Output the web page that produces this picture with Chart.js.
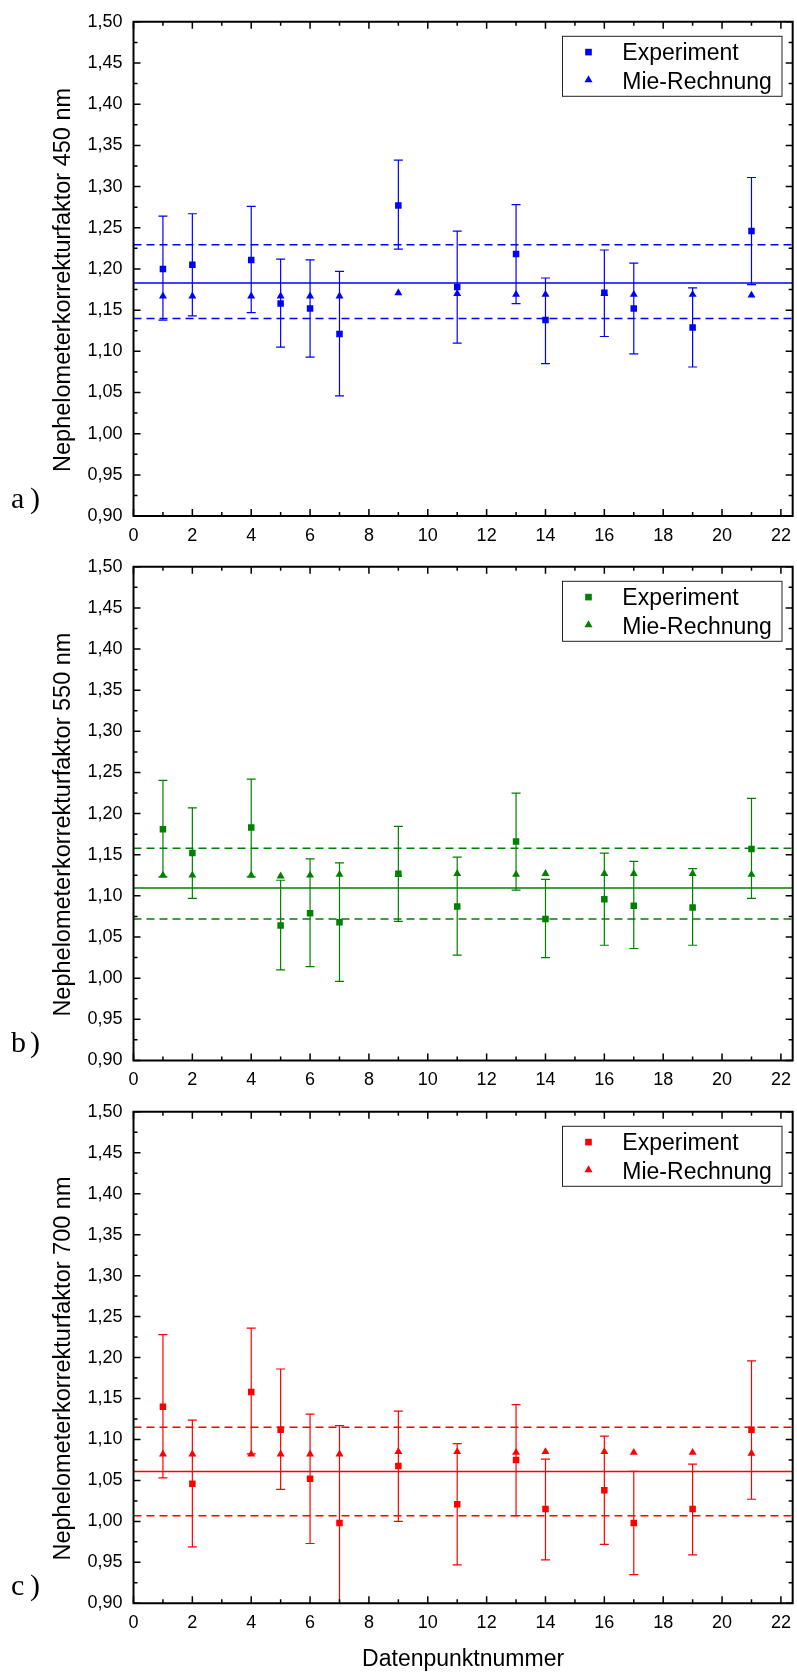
<!DOCTYPE html>
<html>
<head>
<meta charset="utf-8">
<script src="https://cdn.jsdelivr.net/npm/chart.js@4.4.1/dist/chart.umd.min.js"></script>
<style>
  html, body { margin: 0; padding: 0; background: #fff; overflow: hidden; }
  #wrap { position: relative; width: 797px; height: 1673px; overflow: hidden; background: #fff; }
  .panel { position: absolute; left: 0; width: 800px; }
  canvas { display: block; }
</style>
</head>
<body>
<div id="wrap">
  <div class="panel" style="top:0px;height:560px"><canvas id="chartA" width="800" height="560"></canvas></div>
  <div class="panel" style="top:545px;height:560px"><canvas id="chartB" width="800" height="560"></canvas></div>
  <div class="panel" style="top:1090px;height:583px"><canvas id="chartC" width="800" height="583"></canvas></div>
</div>
<script>
// Data point numbers (shared by all three wavelengths)
const pointNumbers = [1, 2, 4, 5, 6, 7, 9, 11, 13, 14, 16, 17, 19, 21];

// Axis ticks
const xMajorTicks = [0, 2, 4, 6, 8, 10, 12, 14, 16, 18, 20, 22];
const xMinorTicks = [1, 3, 5, 7, 9, 11, 13, 15, 17, 19, 21];
const yMajorTicks = [0.90, 0.95, 1.00, 1.05, 1.10, 1.15, 1.20, 1.25, 1.30, 1.35, 1.40, 1.45, 1.50];
const yMinorTicks = [0.925, 0.975, 1.025, 1.075, 1.125, 1.175, 1.225, 1.275, 1.325, 1.375, 1.425, 1.475];

// 450 nm
const exp450     = [1.200, 1.205, 1.211, 1.158, 1.152, 1.121, 1.277, 1.178, 1.218, 1.138, 1.171, 1.152, 1.129, 1.246];
const exp450High = [1.264, 1.267, 1.276, 1.212, 1.211, 1.197, 1.332, 1.246, 1.278, 1.189, 1.223, 1.207, 1.177, 1.311];
const exp450Low  = [1.138, 1.143, 1.147, 1.105, 1.093, 1.046, 1.224, 1.110, 1.158, 1.085, 1.118, 1.097, 1.081, 1.181];
const mie450     = [1.167, 1.167, 1.167, 1.167, 1.167, 1.167, 1.171, 1.170, 1.169, 1.169, 1.170, 1.169, 1.169, 1.168];
const mean450 = 1.183;
const band450 = [1.140, 1.2295];

// 550 nm
const exp550     = [1.181, 1.152, 1.183, 1.064, 1.079, 1.068, 1.127, 1.087, 1.166, 1.072, 1.096, 1.088, 1.086, 1.157];
const exp550High = [1.2405, 1.207, 1.242, 1.119, 1.145, 1.140, 1.1845, 1.147, 1.225, 1.120, 1.152, 1.142, 1.133, 1.2185];
const exp550Low  = [1.123, 1.097, 1.123, 1.010, 1.014, 0.996, 1.069, 1.028, 1.107, 1.025, 1.040, 1.036, 1.040, 1.097];
const mie550     = [1.125, 1.125, 1.125, 1.124, 1.125, 1.126, 1.126, 1.127, 1.126, 1.127, 1.127, 1.127, 1.127, 1.126];
const mean550 = 1.1095;
const band550 = [1.072, 1.158];

// 700 nm
const exp700     = [1.140, 1.046, 1.158, 1.112, 1.052, 0.998, 1.0675, 1.021, 1.075, 1.015, 1.038, 0.998, 1.015, 1.112];
const exp700High = [1.228, 1.1235, 1.236, 1.186, 1.131, 1.117, 1.1345, 1.095, 1.1425, 1.076, 1.104, 1.061, 1.070, 1.196];
const exp700Low  = [1.053, 0.969, 1.0825, 1.039, 0.973, 0.879, 1.000, 0.947, 1.007, 0.953, 0.972, 0.935, 0.959, 1.027];
const mie700     = [1.082, 1.082, 1.082, 1.082, 1.082, 1.082, 1.085, 1.085, 1.084, 1.085, 1.085, 1.084, 1.084, 1.083];
const mean700 = 1.061;
const band700 = [1.007, 1.115];

const SANS = "'Liberation Sans', Arial, Helvetica, sans-serif";
const SERIF = "'Liberation Serif', 'Times New Roman', serif";

// Mean line, dashed band and error bars, drawn under the markers
const underlay = {
  id: 'underlay',
  beforeDatasetsDraw(chart, args, opts) {
    const { ctx, chartArea: a, scales: { x, y } } = chart;
    ctx.save();
    ctx.beginPath();
    ctx.rect(a.left, a.top, a.right - a.left, a.bottom - a.top);
    ctx.clip();

    ctx.strokeStyle = opts.color;
    ctx.lineWidth = 1.5;
    const pm = y.getPixelForValue(opts.mean);
    ctx.beginPath(); ctx.moveTo(a.left, pm); ctx.lineTo(a.right, pm); ctx.stroke();
    ctx.setLineDash([8, 5]);
    for (const v of opts.band) {
      const p = y.getPixelForValue(v);
      ctx.beginPath(); ctx.moveTo(a.left, p); ctx.lineTo(a.right, p); ctx.stroke();
    }
    ctx.setLineDash([]);

    chart.data.datasets.forEach(ds => {
      if (!ds.errLow) return;
      ctx.strokeStyle = ds.backgroundColor;
      ctx.lineWidth = 1.2;
      ds.data.forEach((pt, j) => {
        const px = x.getPixelForValue(pt.x);
        const lo = y.getPixelForValue(ds.errLow[j]);
        const hi = y.getPixelForValue(ds.errHigh[j]);
        ctx.beginPath();
        ctx.moveTo(px, lo); ctx.lineTo(px, hi);
        ctx.moveTo(px - 4.5, lo); ctx.lineTo(px + 4.5, lo);
        ctx.moveTo(px - 4.5, hi); ctx.lineTo(px + 4.5, hi);
        ctx.stroke();
      });
    });
    ctx.restore();
  }
};

// Box frame with inward ticks, legend, axis titles and panel letter
const overlay = {
  id: 'overlay',
  afterDraw(chart, args, opts) {
    const { ctx, chartArea: a, scales: { x, y } } = chart;
    ctx.save();
    ctx.strokeStyle = '#000';
    ctx.lineWidth = 2;
    ctx.beginPath();
    ctx.moveTo(a.left, a.top); ctx.lineTo(a.right, a.top);
    ctx.lineTo(a.right, a.bottom); ctx.lineTo(a.left, a.bottom); ctx.closePath();
    ctx.stroke();

    ctx.lineWidth = 1.5;
    const tickX = (vals, len) => vals.forEach(v => {
      const p = x.getPixelForValue(v);
      ctx.beginPath();
      ctx.moveTo(p, a.bottom); ctx.lineTo(p, a.bottom - len);
      ctx.moveTo(p, a.top); ctx.lineTo(p, a.top + len);
      ctx.stroke();
    });
    const tickY = (vals, len) => vals.forEach(v => {
      const p = y.getPixelForValue(v);
      ctx.beginPath();
      ctx.moveTo(a.left, p); ctx.lineTo(a.left + len, p);
      ctx.moveTo(a.right, p); ctx.lineTo(a.right - len, p);
      ctx.stroke();
    });
    tickX(xMajorTicks, 7); tickX(xMinorTicks, 4);
    tickY(yMajorTicks, 7); tickY(yMinorTicks, 4);

    // legend
    const lx = 562.5, ly = a.top + 14.5, lw = 219.5, lh = 60;
    ctx.fillStyle = '#fff';
    ctx.fillRect(lx, ly, lw, lh);
    ctx.strokeStyle = '#222';
    ctx.lineWidth = 1;
    ctx.strokeRect(lx, ly, lw, lh);
    const dsExp = chart.data.datasets[0], dsMie = chart.data.datasets[1];
    ctx.fillStyle = dsExp.backgroundColor;
    ctx.fillRect(588.5 - 3.3, a.top + 30.3 - 3.3, 6.6, 6.6);
    ctx.fillStyle = dsMie.backgroundColor;
    ctx.beginPath();
    ctx.moveTo(588.5, a.top + 53.5);
    ctx.lineTo(588.5 + 4, a.top + 60.4);
    ctx.lineTo(588.5 - 4, a.top + 60.4);
    ctx.closePath(); ctx.fill();
    ctx.fillStyle = '#000';
    ctx.font = '23px ' + SANS;
    ctx.textAlign = 'left';
    ctx.textBaseline = 'alphabetic';
    ctx.fillText(dsExp.label, 622.3, a.top + 38.5);
    ctx.fillText(dsMie.label, 622.3, a.top + 67);

    // y axis title
    ctx.save();
    ctx.translate(70, (a.top + a.bottom) / 2 + 11);
    ctx.rotate(-Math.PI / 2);
    ctx.textAlign = 'center';
    ctx.font = '23.5px ' + SANS;
    ctx.fillText(opts.yTitle, 0, 0);
    ctx.restore();

    // x axis title
    if (opts.xTitle) {
      ctx.textAlign = 'center';
      ctx.font = '23px ' + SANS;
      ctx.fillText(opts.xTitle, (a.left + a.right) / 2, a.bottom + 63);
    }

    // panel letter
    ctx.textAlign = 'left';
    ctx.font = '30px ' + SERIF;
    ctx.fillText(opts.letter[0], 11, a.bottom - 8);
    ctx.fillText(opts.letter[1], 30, a.bottom - 8);
    ctx.restore();
  }
};

function makePanel(id, color, exp, expLow, expHigh, mie, mean, band, yTitle, letter, xTitle, pad) {
  new Chart(document.getElementById(id), {
    type: 'scatter',
    data: {
      datasets: [
        {
          label: 'Experiment',
          data: pointNumbers.map((n, i) => ({ x: n, y: exp[i] })),
          errLow: expLow,
          errHigh: expHigh,
          pointStyle: 'rect',
          pointRadius: 4.6,
          backgroundColor: color,
          borderColor: color,
          borderWidth: 0
        },
        {
          label: 'Mie-Rechnung',
          data: pointNumbers.map((n, i) => ({ x: n, y: mie[i] })),
          pointStyle: 'triangle',
          pointRadius: 4.6,
          backgroundColor: color,
          borderColor: color,
          borderWidth: 0
        }
      ]
    },
    options: {
      responsive: false,
      animation: false,
      events: [],
      layout: { padding: pad },
      plugins: {
        legend: { display: false },
        tooltip: { enabled: false },
        underlay: { color: color, mean: mean, band: band },
        overlay: { yTitle: yTitle, letter: letter, xTitle: xTitle }
      },
      scales: {
        x: {
          type: 'linear',
          min: 0,
          max: 22.4,
          grid: { display: false, drawTicks: false },
          border: { display: false },
          afterBuildTicks: s => { s.ticks = xMajorTicks.map(v => ({ value: v })); },
          afterFit: s => { s.height = 40; },
          ticks: {
            autoSkip: false,
            maxRotation: 0,
            padding: 9,
            color: '#000',
            font: { family: SANS, size: 18 },
            callback: v => String(v)
          }
        },
        y: {
          type: 'linear',
          min: 0.9,
          max: 1.5,
          grid: { display: false, drawTicks: false },
          border: { display: false },
          afterBuildTicks: s => { s.ticks = yMajorTicks.map(v => ({ value: v })); },
          afterFit: s => { s.width = 133.5; },
          ticks: {
            autoSkip: false,
            padding: 11,
            color: '#000',
            font: { family: SANS, size: 18 },
            callback: v => Number(v).toFixed(2).replace('.', ',')
          }
        }
      }
    },
    plugins: [underlay, overlay]
  });
}

makePanel('chartA', '#0000ff', exp450, exp450Low, exp450High, mie450, mean450, band450,
  'Nephelometerkorrekturfaktor 450 nm', 'a)', null,
  { left: 0, right: 1.5, top: 18.6, bottom: 3.9 });
makePanel('chartB', '#008000', exp550, exp550Low, exp550High, mie550, mean550, band550,
  'Nephelometerkorrekturfaktor 550 nm', 'b)', null,
  { left: 0, right: 1.5, top: 18.2, bottom: 4.6 });
makePanel('chartC', '#ff0000', exp700, exp700Low, exp700High, mie700, mean700, band700,
  'Nephelometerkorrekturfaktor 700 nm', 'c)', 'Datenpunktnummer',
  { left: 0, right: 1.5, top: 15.8, bottom: 29.7 });
</script>
</body>
</html>
